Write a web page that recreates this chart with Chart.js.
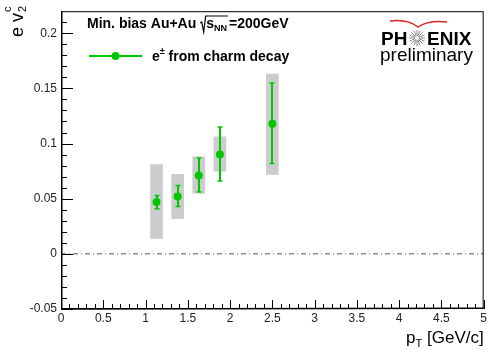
<!DOCTYPE html>
<html>
<head>
<meta charset="utf-8">
<script src="https://cdn.jsdelivr.net/npm/chart.js@4.4.1/dist/chart.umd.min.js"></script>
<style>
  html, body { margin: 0; padding: 0; background: #fff; }
  #wrap { width: 489px; height: 350px; position: relative; }
</style>
</head>
<body>
<div id="wrap"><canvas id="v2chart"></canvas></div>
<script>
// e+- from charm decay: elliptic flow v2 vs pT, min. bias Au+Au at 200 GeV
const pt       = [1.13, 1.38, 1.63, 1.88, 2.50];
const v2       = [0.047, 0.052, 0.071, 0.090, 0.118];
const statLow  = [0.041, 0.043, 0.056, 0.066, 0.082];
const statHigh = [0.053, 0.062, 0.087, 0.115, 0.155];
const sysLow   = [0.014, 0.032, 0.055, 0.075, 0.072];
const sysHigh  = [0.081, 0.072, 0.088, 0.106, 0.163];

const xTicks = [0, 0.5, 1, 1.5, 2, 2.5, 3, 3.5, 4, 4.5, 5];
const yTicks = [-0.05, 0, 0.05, 0.1, 0.15, 0.2];

const GREEN = '#00c800';
const FONT = '"Liberation Sans", Arial, Helvetica, sans-serif';

function fmt(v) { return String(parseFloat(v.toFixed(2))); }

// frame, inward ticks, error bars and all the free text (ROOT look)
const rootStyle = {
  id: 'rootStyle',
  afterDatasetDraw(chart, args) {
    if (args.index !== 0) return;
    const { ctx, scales: { x, y } } = chart;
    ctx.save();
    ctx.strokeStyle = GREEN;
    pt.forEach((p, i) => {
      const px = Math.round(x.getPixelForValue(p));
      const yl = y.getPixelForValue(statLow[i]);
      const yh = y.getPixelForValue(statHigh[i]);
      ctx.lineWidth = 2;
      ctx.beginPath();
      ctx.moveTo(px, yl); ctx.lineTo(px, yh);
      ctx.stroke();
      ctx.lineWidth = 1.5;
      ctx.beginPath();
      ctx.moveTo(px - 2.5, yl); ctx.lineTo(px + 2.5, yl);
      ctx.moveTo(px - 2.5, yh); ctx.lineTo(px + 2.5, yh);
      ctx.stroke();
    });
    ctx.restore();
  },
  afterDraw(chart) {
    const { ctx, chartArea: a, scales: { x, y } } = chart;
    ctx.save();
    ctx.strokeStyle = '#000';
    ctx.lineWidth = 1;
    ctx.strokeRect(a.left + 0.5, a.top + 0.5, a.right - a.left - 1, a.bottom - a.top - 1);
    // axis lines a bit heavier
    ctx.lineWidth = 1.5;
    ctx.beginPath();
    ctx.moveTo(a.left + 0.75, a.top); ctx.lineTo(a.left + 0.75, a.bottom);
    ctx.lineTo(a.right, a.bottom - 0.75);
    ctx.stroke();

    // y ticks: major every 0.05, minor every 0.01
    ctx.lineWidth = 1;
    const yTickPath = new Path2D();
    for (let i = -5; i <= 21; i++) {
      const py = Math.round(y.getPixelForValue(i / 100)) + 0.5;
      const len = i % 5 === 0 ? 12 : 6;
      yTickPath.moveTo(a.left, py); yTickPath.lineTo(a.left + len, py);
    }
    ctx.stroke(yTickPath);

    // x ticks: major every 0.5, minor every 0.1
    const xTickPath = new Path2D();
    for (let i = 0; i <= 50; i++) {
      const px = Math.round(x.getPixelForValue(i / 10)) + 0.5;
      const len = i % 5 === 0 ? 9 : 5;
      xTickPath.moveTo(px, a.bottom); xTickPath.lineTo(px, a.bottom - len);
    }
    ctx.stroke(xTickPath);

    ctx.fillStyle = '#000';
    ctx.textBaseline = 'alphabetic';
    ctx.textAlign = 'left';

    // header: Min. bias Au+Au sqrt(s_NN)=200GeV
    let tx = 87; const ty = 28;
    ctx.font = 'bold 14px ' + FONT;
    ctx.fillText('Min. bias Au+Au ', tx, ty);
    tx += ctx.measureText('Min. bias Au+Au ').width;
    const rootX = tx;
    tx += 6;
    ctx.fillText('s', tx, ty);
    tx += ctx.measureText('s').width;
    ctx.font = 'bold 9px ' + FONT;
    ctx.fillText('NN', tx, ty + 3);
    tx += ctx.measureText('NN').width + 1;
    ctx.lineWidth = 1.2;
    ctx.beginPath();
    ctx.moveTo(rootX, ty - 5);
    ctx.lineTo(rootX + 1.5, ty - 6);
    ctx.lineTo(rootX + 3.5, ty + 4);
    ctx.lineTo(rootX + 5.5, ty - 12);
    ctx.lineTo(tx, ty - 12);
    ctx.stroke();
    tx += 1;
    ctx.font = 'bold 14px ' + FONT;
    ctx.fillText('=200GeV', tx, ty);

    // legend entry
    ctx.strokeStyle = GREEN;
    ctx.lineWidth = 2;
    ctx.beginPath();
    ctx.moveTo(89, 56); ctx.lineTo(142, 56);
    ctx.stroke();
    ctx.fillStyle = GREEN;
    ctx.beginPath();
    ctx.arc(115.5, 56, 4, 0, Math.PI * 2);
    ctx.fill();
    ctx.fillStyle = '#000';
    let lx = 152;
    ctx.font = 'bold 14px ' + FONT;
    ctx.fillText('e', lx, 61);
    lx += ctx.measureText('e').width;
    ctx.font = 'bold 9px ' + FONT;
    ctx.fillText('\u00b1', lx, 54);
    lx += ctx.measureText('\u00b1').width;
    ctx.font = 'bold 14px ' + FONT;
    ctx.fillText(' from charm decay', lx, 61);

    // PHENIX preliminary mark
    ctx.strokeStyle = '#e02020';
    ctx.lineWidth = 1.5;
    ctx.beginPath();
    ctx.moveTo(390, 21);
    ctx.quadraticCurveTo(408, 19, 418, 27);
    ctx.quadraticCurveTo(428, 20, 447, 22);
    ctx.stroke();
    ctx.font = 'bold 19px ' + FONT;
    ctx.fillText('PH', 381, 45);
    ctx.fillText('ENIX', 427, 45);
    ctx.strokeStyle = '#888';
    ctx.lineWidth = 1;
    ctx.beginPath();
    for (let k = 0; k < 16; k++) {
      const t = k * Math.PI / 8;
      ctx.moveTo(417 + 2 * Math.cos(t), 38 + 2 * Math.sin(t));
      ctx.lineTo(417 + 8 * Math.cos(t), 38 + 8 * Math.sin(t));
    }
    ctx.stroke();
    ctx.font = '19px ' + FONT;
    ctx.fillText('preliminary', 380, 61);

    // x axis title: p_T [GeV/c], right aligned
    ctx.font = '17px ' + FONT;
    const wp = ctx.measureText('p').width;
    const wr = ctx.measureText(' [GeV/c]').width;
    ctx.font = '11px ' + FONT;
    const wt = ctx.measureText('T').width;
    let xx = a.right - (wp + wt + wr);
    ctx.font = '17px ' + FONT;
    ctx.fillText('p', xx, 343);
    xx += wp;
    ctx.font = '11px ' + FONT;
    ctx.fillText('T', xx, 347);
    xx += wt;
    ctx.font = '17px ' + FONT;
    ctx.fillText(' [GeV/c]', xx, 343);

    // y axis title: e v_2^c, rotated
    ctx.translate(23, 37);
    ctx.rotate(-Math.PI / 2);
    ctx.font = '18px ' + FONT;
    ctx.fillText('e v', 0, 0);
    const yw = ctx.measureText('e v').width;
    ctx.font = '11px ' + FONT;
    ctx.fillText('2', yw + 1, 3);
    ctx.fillText('c', yw + 1, -12);
    ctx.restore();
  }
};

new Chart(document.getElementById('v2chart'), {
  type: 'scatter',
  data: {
    datasets: [
      {
        type: 'bar',
        label: 'sys',
        data: pt.map((p, i) => ({ x: p, y: [sysLow[i], sysHigh[i]] })),
        backgroundColor: '#cccccc',
        borderWidth: 0,
        barThickness: 12,
        order: 3
      },
      {
        type: 'line',
        label: 'zero',
        data: [{ x: xTicks[0], y: 0 }, { x: xTicks[xTicks.length - 1], y: 0 }],
        borderColor: '#555',
        borderWidth: 1,
        borderDash: [5, 3, 1, 3],
        pointRadius: 0,
        order: 4
      },
      {
        type: 'scatter',
        label: 'e\u00b1 from charm decay',
        data: pt.map((p, i) => ({ x: p, y: v2[i] })),
        backgroundColor: GREEN,
        borderColor: GREEN,
        pointRadius: 4,
        borderWidth: 0,
        order: 1
      }
    ]
  },
  options: {
    responsive: true,
    maintainAspectRatio: false,
    animation: false,
    layout: { padding: { top: 7, right: 4, left: 0, bottom: 0 } },
    plugins: { legend: { display: false }, tooltip: { enabled: false } },
    scales: {
      x: {
        type: 'linear',
        min: 0, max: 5,
        offset: false,
        grid: { display: false, drawTicks: false, tickLength: 0 },
        border: { display: false },
        afterBuildTicks: s => { s.ticks = xTicks.map(v => ({ value: v })); },
        afterFit: s => { s.height = 41; },
        ticks: {
          padding: 2,
          maxRotation: 0,
          autoSkip: false,
          color: '#222',
          font: { family: FONT, size: 12 },
          callback: v => fmt(v)
        }
      },
      y: {
        type: 'linear',
        min: -0.05, max: 0.22,
        grid: { display: false, drawTicks: false, tickLength: 0 },
        border: { display: false },
        afterBuildTicks: s => { s.ticks = yTicks.map(v => ({ value: v })); },
        afterFit: s => { s.width = 61; },
        ticks: {
          padding: 4,
          color: '#222',
          font: { family: FONT, size: 12 },
          callback: v => fmt(v)
        }
      }
    }
  },
  plugins: [rootStyle]
});
</script>
</body>
</html>
